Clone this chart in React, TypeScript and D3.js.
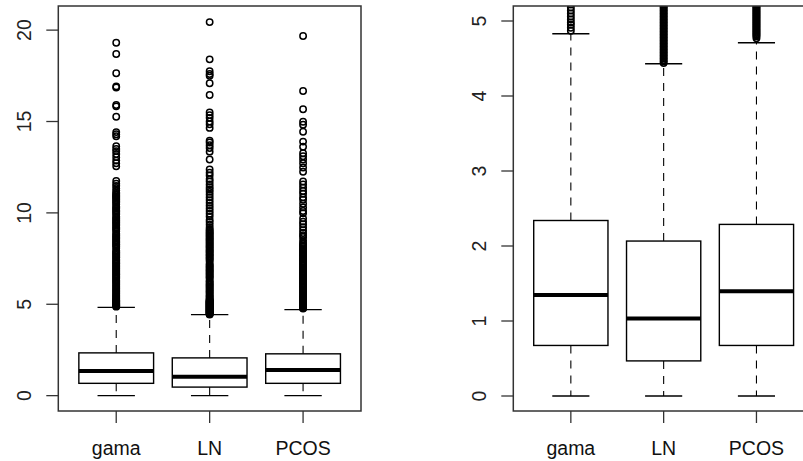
import React from "react";
import * as d3 from "d3";

const categories = ["gama", "LN", "PCOS"];
const lowerWhisker = [0, 0, 0];
const q1 = [0.674, 0.468, 0.674];
const median = [1.347, 1.035, 1.397];
const q3 = [2.34, 2.066, 2.288];
const upperWhisker = [4.83, 4.43, 4.71];

const outliersGama = [
  19.31, 18.69, 17.64, 16.92, 16.86, 15.9, 15.83, 15.26, 14.42, 14.3, 14.19, 13.65, 13.5, 13.38, 13.22,
  13.05, 12.86, 12.72, 12.55, 11.75, 11.6, 11.48, 11.35, 11.22,
  11.1, 11.04, 10.97, 10.9, 10.85, 10.77, 10.7, 10.62, 10.55, 10.47, 10.36, 10.3, 10.22, 10.15, 10.08,
  10.0, 9.92, 9.8, 9.74, 9.66, 9.58, 9.52, 9.45, 9.38, 9.3, 9.22, 9.15, 9.08, 9.0, 8.88, 8.8, 8.74,
  8.66, 8.6, 8.52, 8.45, 8.38, 8.3, 8.24, 8.16, 8.08, 7.96, 7.88, 7.82, 7.75, 7.68, 7.6, 7.54, 7.46,
  7.4, 7.33, 7.26, 7.2, 7.13, 7.06, 7.0, 6.93, 6.86, 6.8, 6.73, 6.66, 6.6, 6.52, 6.46, 6.4, 6.32, 6.26,
  6.2, 6.12, 6.05, 5.98, 5.9, 5.84, 5.77, 5.7, 5.63, 5.56, 5.5, 5.44, 5.38, 5.32, 5.27, 5.22, 5.18,
  5.14, 5.1, 5.06, 5.02, 4.98, 4.95, 4.91, 4.87,
];
const outliersLN = [
  20.44, 18.4, 17.75, 17.6, 17.5, 17.09, 16.45, 15.5, 15.35, 15.2, 15.0, 14.85, 14.65, 13.95, 13.85,
  13.7, 13.55, 13.35, 12.92, 12.38, 12.2, 12.05, 11.85, 11.72, 11.55, 11.4, 11.28, 11.15, 11.0, 10.85,
  10.7, 10.55, 10.4, 10.25, 10.1, 9.95, 9.8, 9.62, 9.5, 9.35, 9.2,
  9.1, 9.03, 8.96, 8.9, 8.83, 8.76, 8.7, 8.63, 8.56, 8.5, 8.43, 8.36, 8.3, 8.23, 8.16, 8.1, 8.03, 7.96,
  7.9, 7.83, 7.76, 7.7, 7.63, 7.56, 7.5, 7.43, 7.36, 7.22, 7.15, 7.08, 7.02, 6.95, 6.88, 6.82, 6.75,
  6.68, 6.62, 6.55, 6.48, 6.42, 6.3, 6.24, 6.17, 6.1, 6.04, 5.97, 5.9, 5.84, 5.77, 5.7, 5.64, 5.57,
  5.5, 5.44, 5.38, 5.32, 5.27, 5.23, 5.2, 5.18, 5.16, 5.14, 5.12, 5.1, 5.08, 5.06, 5.04, 5.02, 5.0,
  4.98, 4.96, 4.94, 4.92, 4.9, 4.88, 4.86, 4.84, 4.82, 4.8, 4.78, 4.76, 4.74, 4.72, 4.7, 4.68, 4.66,
  4.64, 4.62, 4.6, 4.58, 4.56, 4.54, 4.52, 4.5, 4.48, 4.46, 4.44,
];
const outliersPCOS = [
  19.68, 16.67, 15.67, 14.99, 14.82, 14.44, 13.9, 13.62, 13.26, 13.1, 12.92, 12.72, 12.48, 12.25,
  11.72, 11.55, 11.38, 11.2, 11.05, 10.85, 10.72, 10.5, 10.3, 10.1, 9.98, 9.7, 9.52, 9.38, 9.22, 9.05,
  8.9, 8.78, 8.68, 8.5, 8.35,
  8.28, 8.21, 8.14, 8.07, 8.0, 7.93, 7.86, 7.79, 7.72, 7.65, 7.58, 7.51, 7.44, 7.37, 7.3, 7.23, 7.16,
  7.09, 7.02, 6.95, 6.88, 6.81, 6.74, 6.67, 6.6, 6.53, 6.46, 6.39, 6.32, 6.25, 6.18, 6.11, 6.04, 5.97,
  5.9, 5.83, 5.76, 5.69, 5.62, 5.55, 5.48, 5.41, 5.35, 5.3, 5.26, 5.22, 5.2, 5.185, 5.17, 5.155, 5.14,
  5.125, 5.11, 5.095, 5.08, 5.065, 5.05, 5.035, 5.02, 5.005, 4.99, 4.975, 4.96, 4.945, 4.93, 4.915,
  4.9, 4.885, 4.87, 4.855, 4.84, 4.825, 4.81, 4.795, 4.77,
];
const outliers = [outliersGama, outliersLN, outliersPCOS];

const leftTicks = [0, 5, 10, 15, 20];
const rightTicks = [0, 1, 2, 3, 4, 5];

const FONT = "'Liberation Sans', Arial, Helvetica, sans-serif";

type PanelProps = {
  id: string;
  x0: number;
  x1: number;
  yDomain: [number, number];
  ticks: number[];
};

const TOP = 6;
const BOTTOM = 411;

function Panel({ id, x0, x1, yDomain, ticks }: PanelProps) {
  const x = d3.scaleLinear().domain([0.38, 3.62]).range([x0, x1]);
  const y = d3.scaleLinear().domain(yDomain).range([BOTTOM, TOP]);
  const bw = x(1.4) - x(1);
  const cw = x(1.2) - x(1);
  return (
    <g>
      <defs>
        <clipPath id={id}>
          <rect x={x0} y={TOP} width={x1 - x0} height={BOTTOM - TOP} />
        </clipPath>
      </defs>
      <g clipPath={`url(#${id})`}>
        {categories.map((c, i) => {
          const cx = x(i + 1);
          return (
            <g key={c}>
              <line x1={cx} x2={cx} y1={y(q3[i])} y2={y(upperWhisker[i])} stroke="#000" strokeWidth={1.1} strokeDasharray="8,7" />
              <line x1={cx} x2={cx} y1={y(q1[i])} y2={y(lowerWhisker[i])} stroke="#000" strokeWidth={1.1} strokeDasharray="8,7" />
              <line x1={cx - cw} x2={cx + cw} y1={y(upperWhisker[i])} y2={y(upperWhisker[i])} stroke="#000" strokeWidth={1.3} />
              <line x1={cx - cw} x2={cx + cw} y1={y(lowerWhisker[i])} y2={y(lowerWhisker[i])} stroke="#000" strokeWidth={1.3} />
              <rect x={cx - bw} y={y(q3[i])} width={2 * bw} height={y(q1[i]) - y(q3[i])} fill="#fff" stroke="#000" strokeWidth={1.4} />
              <line x1={cx - bw} x2={cx + bw} y1={y(median[i])} y2={y(median[i])} stroke="#000" strokeWidth={4} />
              {outliers[i].map((v, j) => (
                <circle key={j} cx={cx} cy={y(v)} r={3.2} fill="none" stroke="#000" strokeWidth={1.5} />
              ))}
            </g>
          );
        })}
      </g>
      <rect x={x0} y={TOP} width={x1 - x0} height={BOTTOM - TOP} fill="none" stroke="#333" strokeWidth={1.5} />
      {ticks.map((t) => (
        <g key={t}>
          <line x1={x0 - 12} x2={x0} y1={y(t)} y2={y(t)} stroke="#333" strokeWidth={1.3} />
          <text
            transform={`translate(${x0 - 27.5},${y(t)}) rotate(-90)`}
            textAnchor="middle"
            fontFamily={FONT}
            fontSize={19.5}
            fill="#222"
          >
            {t}
          </text>
        </g>
      ))}
      {categories.map((c, i) => (
        <g key={c}>
          <line x1={x(i + 1)} x2={x(i + 1)} y1={BOTTOM} y2={BOTTOM + 12} stroke="#333" strokeWidth={1.3} />
          <text x={x(i + 1)} y={455} textAnchor="middle" fontFamily={FONT} fontSize={19.5} fill="#111">
            {c}
          </text>
        </g>
      ))}
    </g>
  );
}

export default function App() {
  return (
    <svg
      width={803}
      height={461}
      style={{ position: "absolute", left: 0, top: 0, background: "#fff" }}
    >
      <rect width={803} height={461} fill="#fff" />
      <Panel id="clipL" x0={58.3} x1={361} yDomain={[-0.84, 21.32]} ticks={leftTicks} />
      <Panel id="clipR" x0={513.3} x1={814} yDomain={[-0.2, 5.2]} ticks={rightTicks} />
    </svg>
  );
}
